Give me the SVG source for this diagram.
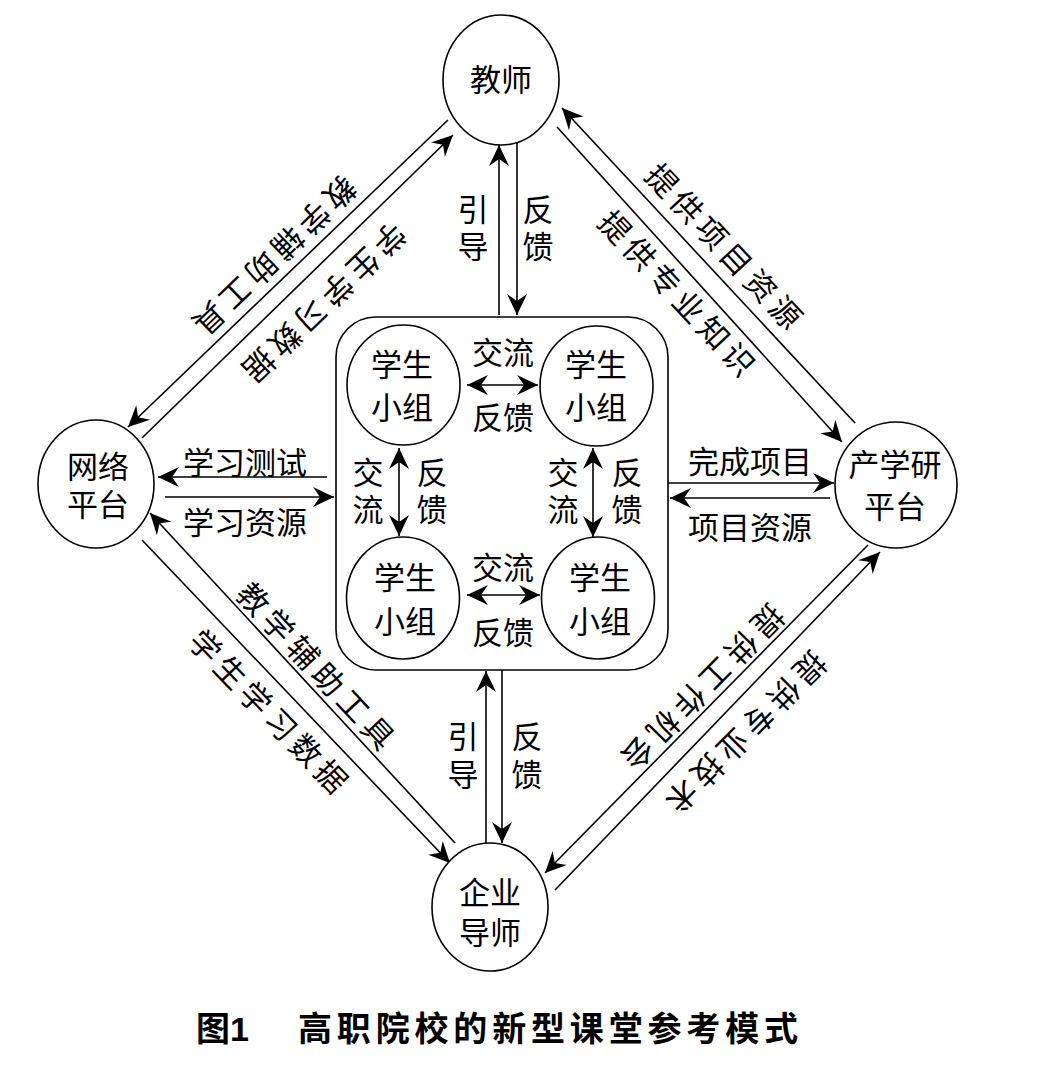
<svg xmlns="http://www.w3.org/2000/svg" width="1037" height="1077" viewBox="0 0 1037 1077">
<style>
.bg{fill:#fff}
.n{fill:#fff;stroke:#000;stroke-width:1.6}
.t{font-family:"Liberation Serif","Noto Sans CJK SC",serif;font-size:31px;text-anchor:middle;dominant-baseline:central;fill:#000}
.d{font-size:31px}
.c{stroke:#000;stroke-width:1.6;fill:none;marker-end:url(#ah)}
.cc{stroke:#000;stroke-width:1.6;fill:none;marker-end:url(#ah);marker-start:url(#ahs)}
.cap{font-family:"Liberation Sans","Noto Sans CJK SC",sans-serif;font-size:34px;font-weight:bold;dominant-baseline:central;fill:#000}
</style>
<defs>
<marker id="ah" viewBox="-22 -11 23 22" refX="0" refY="0" markerWidth="23" markerHeight="22" markerUnits="userSpaceOnUse" orient="auto">
<path d="M0,0 L-21,-10 L-14,0 L-21,10 Z" fill="#000"/>
</marker>
<marker id="ahs" viewBox="-22 -11 23 22" refX="0" refY="0" markerWidth="23" markerHeight="22" markerUnits="userSpaceOnUse" orient="auto-start-reverse">
<path d="M0,0 L-21,-10 L-14,0 L-21,10 Z" fill="#000"/>
</marker>
</defs>
<rect class="bg" x="0" y="0" width="1037" height="1077"/>

<g id="connectors">
<line class="c" x1="499" y1="315" x2="499" y2="145"/>
<line class="c" x1="517" y1="143" x2="517" y2="315"/>
<line class="c" x1="486" y1="843" x2="486" y2="671"/>
<line class="c" x1="502" y1="670" x2="502" y2="843"/>
<line class="c" x1="327" y1="477" x2="158" y2="477"/>
<line class="c" x1="165" y1="497" x2="334" y2="497"/>
<line class="c" x1="668" y1="483" x2="834" y2="483"/>
<line class="c" x1="830" y1="498" x2="670" y2="498"/>
<line class="cc" x1="467" y1="385" x2="538" y2="385"/>
<line class="cc" x1="467" y1="595" x2="540" y2="595"/>
<line class="cc" x1="399" y1="448" x2="399" y2="536"/>
<line class="cc" x1="593" y1="448" x2="593" y2="537"/>
<line class="c" x1="448" y1="120" x2="128" y2="427"/>
<line class="c" x1="142" y1="438" x2="453" y2="135"/>
<line class="c" x1="855" y1="423" x2="562" y2="108"/>
<line class="c" x1="557" y1="127" x2="842" y2="442"/>
<line class="c" x1="868" y1="545" x2="545" y2="873"/>
<line class="c" x1="555" y1="890" x2="880" y2="552"/>
<line class="c" x1="455" y1="843" x2="150" y2="513"/>
<line class="c" x1="142" y1="540" x2="450" y2="863"/>
</g>

<g id="classroom">
<rect class="n" x="336" y="317" width="332" height="353" rx="40" ry="40" style="fill:none"/>
</g>

<g id="teacher">
<ellipse class="n" cx="501" cy="80" rx="58" ry="65"/>
<text class="t" x="501" y="80">教师</text>
</g>
<g id="network">
<ellipse class="n" cx="96" cy="484" rx="58" ry="64"/>
<text class="t" x="98" y="467">网络</text>
<text class="t" x="98" y="505">平台</text>
</g>
<g id="industry">
<ellipse class="n" cx="896" cy="485" rx="61" ry="63"/>
<text class="t" x="895" y="465">产学研</text>
<text class="t" x="895" y="507">平台</text>
</g>
<g id="enterprise">
<ellipse class="n" cx="490" cy="907" rx="58" ry="64"/>
<text class="t" x="490" y="893">企业</text>
<text class="t" x="490" y="933">导师</text>
</g>
<g id="group1">
<ellipse class="n" cx="403.5" cy="385" rx="56.5" ry="60"/>
<text class="t" x="402" y="365">学生</text>
<text class="t" x="402" y="408">小组</text>
</g>
<g id="group2">
<ellipse class="n" cx="596.5" cy="386" rx="56.5" ry="60"/>
<text class="t" x="596" y="365">学生</text>
<text class="t" x="596" y="408">小组</text>
</g>
<g id="group3">
<ellipse class="n" cx="403" cy="598" rx="56.5" ry="61"/>
<text class="t" x="405" y="578">学生</text>
<text class="t" x="405" y="622">小组</text>
</g>
<g id="group4">
<ellipse class="n" cx="598" cy="598" rx="56.5" ry="61"/>
<text class="t" x="600" y="578">学生</text>
<text class="t" x="600" y="622">小组</text>
</g>

<g id="labels">
<text class="t"><tspan x="473" y="210">引</tspan><tspan x="473" y="247">导</tspan></text>
<text class="t"><tspan x="538" y="210">反</tspan><tspan x="538" y="247">馈</tspan></text>
<text class="t"><tspan x="463" y="737">引</tspan><tspan x="463" y="775">导</tspan></text>
<text class="t"><tspan x="527" y="737">反</tspan><tspan x="527" y="775">馈</tspan></text>
<text class="t" x="245" y="463">学习测试</text>
<text class="t" x="245" y="523">学习资源</text>
<text class="t" x="750" y="462">完成项目</text>
<text class="t" x="750" y="528">项目资源</text>
<text class="t" x="503" y="353">交流</text>
<text class="t" x="503" y="418">反馈</text>
<text class="t" x="503" y="568">交流</text>
<text class="t" x="503" y="633">反馈</text>
<text class="t"><tspan x="368" y="473">交</tspan><tspan x="368" y="510">流</tspan></text>
<text class="t"><tspan x="432" y="473">反</tspan><tspan x="432" y="510">馈</tspan></text>
<text class="t"><tspan x="563" y="473">交</tspan><tspan x="563" y="510">流</tspan></text>
<text class="t"><tspan x="627" y="473">反</tspan><tspan x="627" y="510">馈</tspan></text>
<text class="t d" x="0" y="0" textLength="212" lengthAdjust="spacing" transform="translate(274,255) rotate(136)">教学辅助工具</text>
<text class="t d" x="0" y="0" textLength="212" lengthAdjust="spacing" transform="translate(323.5,301.5) rotate(136)">学生学习数据</text>
<text class="t d" x="0" y="0" textLength="212" lengthAdjust="spacing" transform="translate(723,247) rotate(47)">提供项目资源</text>
<text class="t d" x="0" y="0" textLength="212" lengthAdjust="spacing" transform="translate(676,294) rotate(47)">提供专业知识</text>
<text class="t d" x="0" y="0" textLength="216" lengthAdjust="spacing" transform="translate(702,686.5) rotate(134.5)">提供工作机会</text>
<text class="t d" x="0" y="0" textLength="212" lengthAdjust="spacing" transform="translate(745,731.5) rotate(135)">提供专业技术</text>
<text class="t d" x="0" y="0" textLength="214" lengthAdjust="spacing" transform="translate(315,666.5) rotate(47)">教学辅助工具</text>
<text class="t d" x="0" y="0" textLength="212" lengthAdjust="spacing" transform="translate(267.5,712) rotate(46)">学生学习数据</text>
</g>

<g id="caption">
<text class="cap" x="196" y="1029">图1</text>
<text class="cap" x="298" y="1029" textLength="500" lengthAdjust="spacing">高职院校的新型课堂参考模式</text>
</g>
</svg>
